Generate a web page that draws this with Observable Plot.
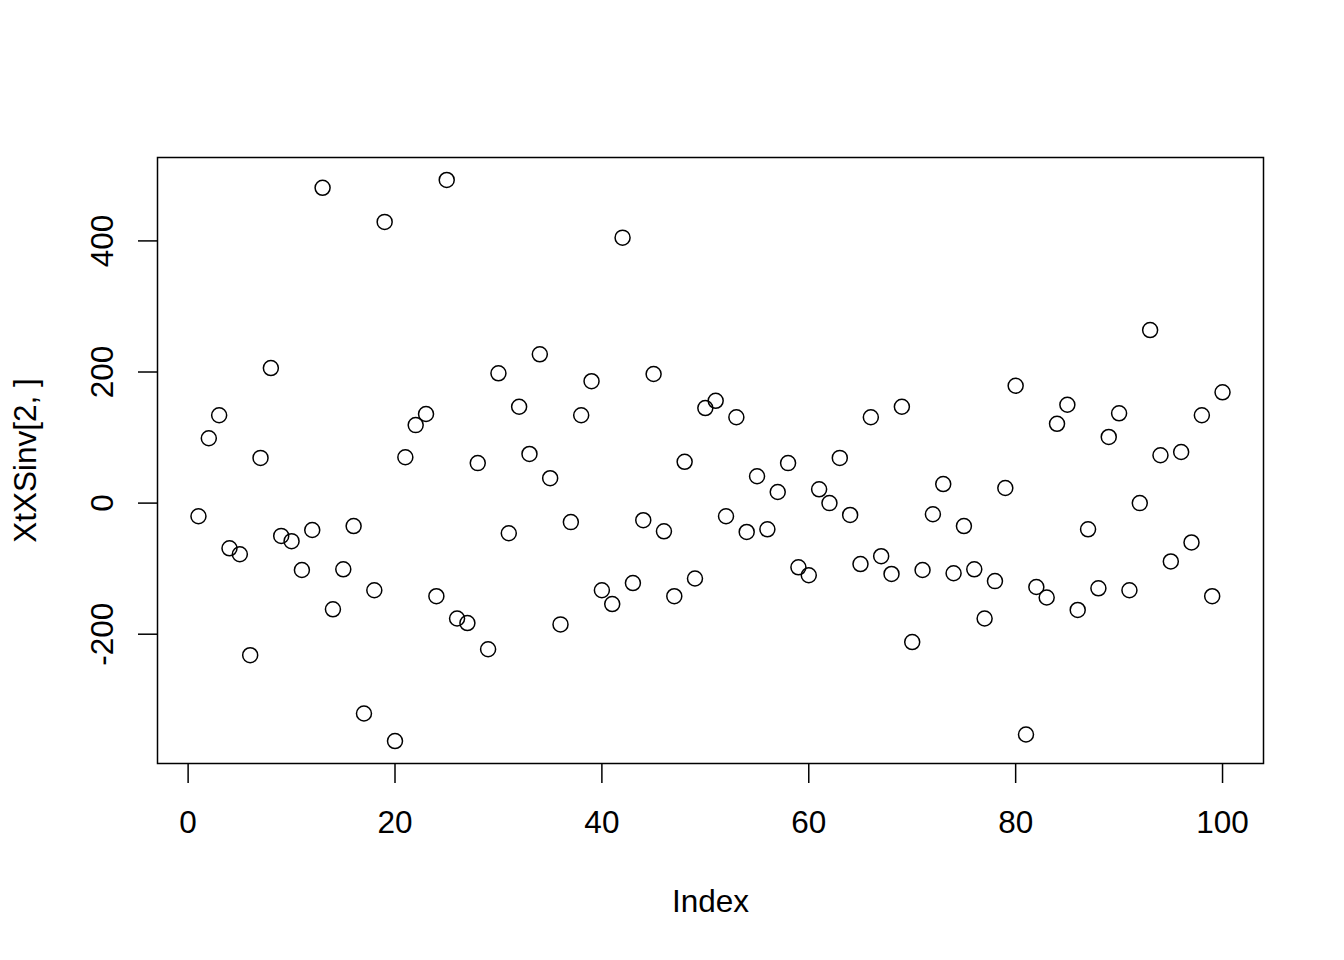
<!DOCTYPE html>
<html>
<head>
<meta charset="utf-8">
<script src="https://cdn.jsdelivr.net/npm/d3@7"></script>
<script src="https://cdn.jsdelivr.net/npm/@observablehq/plot@0.6"></script>
<style>
  html, body { margin: 0; padding: 0; background: #fff; }
  #chart { width: 1344px; height: 960px; }
</style>
</head>
<body>
<div id="chart"></div>
<script>
(function() {
  "use strict";

  // values, index 1..100
  var values = [
    -20, 99, 134, -69, -78, -232, 69, 206, -50, -58,
    -102, -41, 481, -162, -101, -35, -321, -133, 429, -363,
    70, 119, 136, -142, 493, -176, -183, 61, -223, 198,
    -46, 147, 75, 227, 38, -185, -29, 134, 186, -133,
    -154, 405, -122, -26, 197, -43, -142, 63, -115, 145,
    156, -20, 131, -44, 41, -40, 17, 61, -98, -110,
    21, 0, 69, -18, -93, 131, -81, -108, 147, -212,
    -102, -17, 29, -107, -35, -101, -176, -119, 23, 179,
    -353, -128, -144, 121, 150, -163, -40, -130, 101, 137,
    -133, 0, 264, 73, -89, 78, -60, 134, -142, 169
  ];
  var xTicks = [0, 20, 40, 60, 80, 100];
  var yTicks = [-200, 0, 200, 400];
  var xLabel = "Index";
  var yLabel = "XtXSinv[2, ]";

  var rows = values.map(function(v, i) {
    return { index: i + 1, value: v };
  });

  // R-style 4% padding on each side
  function padded(extent) {
    var d = (extent[1] - extent[0]) * 0.04;
    return [extent[0] - d, extent[1] + d];
  }

  var font = "'Liberation Sans', Arial, Helvetica, sans-serif";
  var fs = 31.5;

  var plot = Plot.plot({
    width: 1344,
    height: 960,
    marginLeft: 157,
    marginRight: 81,
    marginTop: 157,
    marginBottom: 197,
    style: { fontFamily: font, fontSize: fs + "px", color: "#000", background: "#fff" },
    x: { domain: padded(d3.extent(rows, function(d) { return d.index; })) },
    y: { domain: padded(d3.extent(rows, function(d) { return d.value; })) },
    marks: [
      Plot.frame({ stroke: "#000", strokeWidth: 1.5 }),
      Plot.axisX({
        ticks: xTicks,
        tickSize: 20,
        tickPadding: 27.6,
        fontSize: fs,
        strokeWidth: 1.5,
        label: null
      }),
      Plot.axisY({
        ticks: yTicks,
        tickSize: 19,
        text: null,
        strokeWidth: 1.5,
        label: null
      }),
      Plot.text(yTicks, {
        y: function(d) { return d; },
        text: function(d) { return String(d); },
        frameAnchor: "left",
        dx: -45,
        rotate: -90,
        lineAnchor: "bottom",
        textAnchor: "middle",
        fontSize: fs,
        fill: "#000"
      }),
      Plot.text([xLabel], {
        text: function(d) { return d; },
        frameAnchor: "bottom",
        dy: 148,
        lineAnchor: "bottom",
        textAnchor: "middle",
        fontSize: fs,
        fill: "#000"
      }),
      Plot.text([yLabel], {
        text: function(d) { return d; },
        frameAnchor: "left",
        dx: -122,
        rotate: -90,
        lineAnchor: "bottom",
        textAnchor: "middle",
        fontSize: fs,
        fill: "#000"
      }),
      Plot.dot(rows, {
        x: "index",
        y: "value",
        r: 7.5,
        stroke: "#000",
        strokeWidth: 1.5,
        fill: "none"
      })
    ]
  });

  document.getElementById("chart").appendChild(plot);
}).call(this);
</script>
</body>
</html>
